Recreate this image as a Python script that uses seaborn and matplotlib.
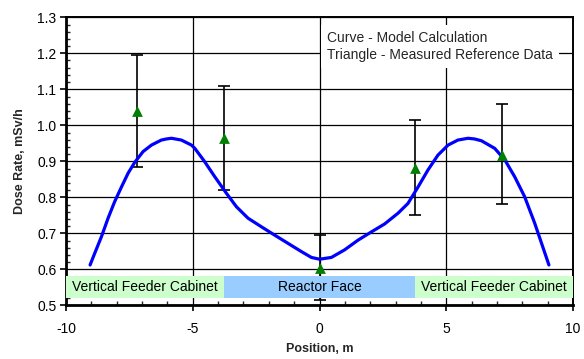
import numpy as np
import pandas as pd
import matplotlib
matplotlib.use("Agg")
import matplotlib.pyplot as plt
from matplotlib.ticker import MultipleLocator, FormatStrFormatter
import seaborn as sns

# ---- data ----
curve_x = [-9.05, -8.87, -8.60, -8.34, -8.08, -7.81, -7.55, -7.29, -6.96, -6.63, -6.24,
           -6.04, -5.84, -5.45, -5.05, -4.92, -4.55, -4.13, -3.67, -3.28, -2.82, -2.29,
           -1.77, -1.24, -0.71, -0.32, 0.0, 0.47, 0.99, 1.52, 2.05, 2.57, 3.10, 3.49,
           3.89, 4.28, 4.67, 5.07, 5.46, 5.86, 6.12, 6.39, 6.91, 7.31, 7.70, 8.09,
           8.49, 8.77, 9.05]
curve_y = [0.612, 0.644, 0.691, 0.742, 0.788, 0.829, 0.867, 0.897, 0.927, 0.945, 0.959,
           0.962, 0.964, 0.959, 0.945, 0.936, 0.901, 0.857, 0.811, 0.774, 0.742, 0.718,
           0.695, 0.672, 0.649, 0.633, 0.628, 0.633, 0.654, 0.681, 0.704, 0.726, 0.756, 0.783,
           0.829, 0.876, 0.917, 0.945, 0.959, 0.964, 0.962, 0.957, 0.936, 0.904, 0.857, 0.802,
           0.728, 0.670, 0.612]

meas_x = [-7.2, -3.77, 0.0, 3.76, 7.2]
meas_y = [1.040, 0.964, 0.605, 0.882, 0.918]
meas_lo = [0.883, 0.819, 0.515, 0.751, 0.781]
meas_hi = [1.196, 1.110, 0.695, 1.015, 1.058]

band_labels = ["Vertical Feeder Cabinet", "Reactor Face", "Vertical Feeder Cabinet"]
band_start = [-10.0, -3.75, 3.75]
band_end = [-3.75, 3.75, 10.0]
band_colors = ["#CCFFCC", "#99CCFF", "#CCFFCC"]
band_low, band_high = 0.520, 0.582

legend_lines = ["Curve - Model Calculation", "Triangle - Measured Reference Data"]

# ---- style ----
sns.set_style("white")
plt.rcParams["font.family"] = ["Liberation Sans", "DejaVu Sans"]
plt.rcParams["axes.unicode_minus"] = False

fig = plt.figure(figsize=(5.84, 3.59), dpi=100)
ax = fig.add_axes([66 / 584, 1 - 305.3 / 359, (573 - 66) / 584, (305.3 - 17.3) / 359])

curve_df = pd.DataFrame({"x": curve_x, "y": curve_y})
meas_df = pd.DataFrame({"x": meas_x, "y": meas_y})

# grid
ax.set_axisbelow(True)
ax.grid(True, which="major", axis="both", color="black", linewidth=0.9)

# error bars
yerr = [np.array(meas_y) - np.array(meas_lo), np.array(meas_hi) - np.array(meas_y)]
ax.errorbar(meas_x, meas_y, yerr=yerr, fmt="none", ecolor="black",
            elinewidth=1.2, capsize=4, capthick=1.2, zorder=3)

# bands
for lab, x0, x1, c in zip(band_labels, band_start, band_end, band_colors):
    ax.fill_between([x0, x1], band_low, band_high, color=c, linewidth=0, zorder=4)
    ax.text((x0 + x1) / 2, (band_low + band_high) / 2, lab, ha="center", va="center",
            fontsize=10, color="black", zorder=5)

# model curve
sns.lineplot(data=curve_df, x="x", y="y", ax=ax, color="#0000FF", linewidth=2.3,
             sort=False, zorder=6, solid_joinstyle="round", solid_capstyle="round")

# measured triangles
sns.scatterplot(data=meas_df, x="x", y="y", ax=ax, marker="^", s=60, color="#008000",
                edgecolor="#008000", linewidth=0, zorder=7)

# legend text box
ax.text(0.30, 1.262, "\n".join(legend_lines), ha="left", va="top", fontsize=10,
        linespacing=1.25, zorder=8,
        bbox=dict(boxstyle="square,pad=0.42", facecolor="white", edgecolor="none"))

ax.set_xlim(-10, 10)
ax.set_ylim(0.5, 1.3)
ax.xaxis.set_major_locator(MultipleLocator(5))
ax.xaxis.set_minor_locator(MultipleLocator(1))
ax.yaxis.set_major_locator(MultipleLocator(0.1))
ax.yaxis.set_minor_locator(MultipleLocator(0.02))
ax.yaxis.set_major_formatter(FormatStrFormatter("%.1f"))
ax.xaxis.set_major_formatter(FormatStrFormatter("%d"))

ax.tick_params(which="major", direction="out", length=4, width=1.2, labelsize=10,
               colors="black", left=True, bottom=True, pad=3)
ax.tick_params(which="minor", direction="in", length=3, width=1.0, left=True, bottom=True)
ax.tick_params(axis="x", which="major", pad=8)

for side in ["top", "right"]:
    ax.spines[side].set_visible(True)
    ax.spines[side].set_color("black")
    ax.spines[side].set_linewidth(1.4)
for side in ["left", "bottom"]:
    ax.spines[side].set_color("black")
    ax.spines[side].set_linewidth(2.0)

ax.set_xlabel("Position, m", fontsize=9, fontweight="bold", labelpad=5)
ax.set_ylabel("Dose Rate, mSv/h", fontsize=9, fontweight="bold", labelpad=8)

fig.savefig("out.png", dpi=100)
